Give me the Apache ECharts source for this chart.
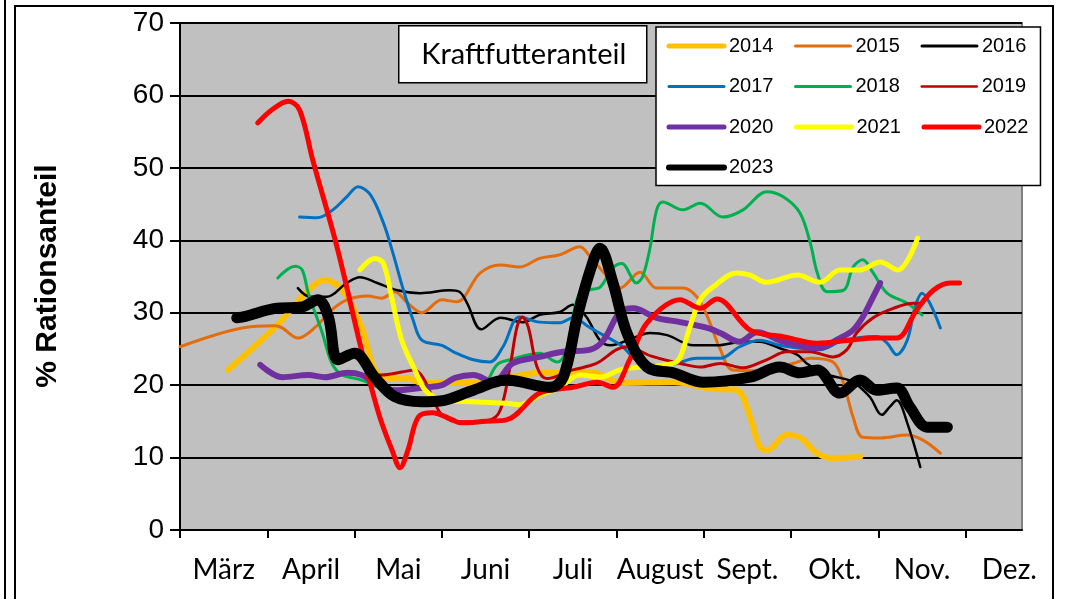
<!DOCTYPE html>
<html>
<head>
<meta charset="utf-8">
<script src="https://cdn.jsdelivr.net/npm/echarts@6/dist/echarts.min.js"></script>
<style>
  html, body { margin: 0; padding: 0; background: #fff; }
  #chart { width: 1066px; height: 599px; }
</style>
</head>
<body>
<div id="chart"></div>
<script>
// x = months since 1 March, y = % Rationsanteil
const months = ["März", "April", "Mai", "Juni", "Juli", "August", "Sept.", "Okt.", "Nov.", "Dez."];
const yTicks = [0, 10, 20, 30, 40, 50, 60, 70];
const years = ["2014", "2015", "2016", "2017", "2018", "2019", "2020", "2021", "2022", "2023"];

const s2014 = [[0.55,22.1],[1.09,28.0],[1.47,33.1],[1.66,34.5],[1.86,33.1],[2.08,28.0],[2.23,22.1],[2.38,21.0],[2.61,21.0],[2.77,20.3],[2.98,20.3],[3.36,20.3],[4.12,21.7],[4.70,21.8],[5.07,20.3],[5.65,20.4],[6.1,19.5],[6.38,19.3],[6.53,15.6],[6.64,11.5],[6.72,11.0],[6.95,13.1],[7.1,12.8],[7.3,10.6],[7.48,9.9],[7.79,10.1]];
const s2015 = [[0,25.3],[0.71,27.9],[1.09,28.2],[1.17,27.9],[1.35,26.5],[1.55,28.0],[1.74,30.4],[1.92,31.8],[2.15,32.3],[2.31,32.0],[2.46,32.9],[2.61,31.3],[2.77,30.0],[3.0,31.8],[3.17,31.5],[3.44,35.5],[3.67,36.6],[3.89,36.3],[4.12,37.5],[4.35,38.0],[4.58,39.1],[4.70,37.7],[4.93,34.5],[5.04,33.4],[5.27,35.6],[5.46,33.4],[5.76,33.4],[5.92,32.2],[6.04,29.5],[6.19,24.9],[6.33,22.1],[6.6,22.0],[7.02,23.0],[7.22,23.7],[7.48,23.2],[7.6,20.3],[7.71,15.6],[7.82,12.8],[8.02,12.7],[8.33,13.1],[8.51,12.4],[8.71,10.6]];
const s2016 = [[1.35,33.4],[1.49,32.2],[1.68,32.2],[1.91,34.1],[2.06,34.9],[2.26,34.1],[2.49,33.1],[2.75,32.7],[3.09,33.1],[3.2,32.9],[3.29,31.3],[3.45,27.7],[3.67,29.3],[3.93,28.7],[4.12,29.7],[4.35,30.1],[4.5,31.1],[4.65,29.5],[4.81,26.2],[4.93,25.5],[5.23,26.7],[5.38,27.2],[5.58,26.9],[5.88,25.5],[6.15,25.5],[6.45,26.0],[6.64,26.0],[6.87,25.1],[7.07,24.2],[7.18,23.0],[7.4,21.5],[7.7,20.5],[7.9,18.4],[8.04,15.9],[8.13,17.0],[8.21,17.9],[8.33,14.8],[8.48,8.7]];
const s2017 = [[1.37,43.2],[1.57,43.1],[1.75,44.2],[1.91,46.0],[2.04,47.4],[2.18,46.3],[2.33,42.4],[2.44,38.2],[2.55,33.5],[2.67,29.0],[2.77,26.2],[3.0,25.5],[3.15,24.5],[3.36,23.5],[3.55,23.2],[3.70,25.3],[3.89,29.4],[4.12,28.7],[4.35,28.6],[4.5,29.3],[4.7,27.9],[4.85,26.9],[5.05,25.5],[5.3,23.0],[5.6,22.8],[5.92,23.7],[6.19,23.7],[6.41,25.3],[6.64,26.2],[6.87,25.5],[7.1,25.1],[7.33,24.9],[7.56,26.0],[7.75,26.5],[7.98,26.7],[8.1,25.8],[8.21,24.2],[8.33,26.2],[8.42,30.8],[8.50,32.7],[8.59,31.3],[8.71,27.9]];
const s2018 = [[1.12,34.8],[1.32,36.4],[1.40,35.9],[1.47,32.7],[1.63,27.2],[1.74,23.0],[1.86,21.4],[2.08,20.7],[2.3,19.5],[2.6,18.0],[2.9,18.0],[3.2,18.5],[3.47,19.7],[3.63,22.8],[3.78,23.5],[4.12,24.4],[4.32,23.2],[4.43,24.9],[4.50,29.4],[4.58,32.7],[4.7,33.2],[4.81,33.5],[4.96,36.2],[5.06,36.8],[5.23,34.1],[5.3,35.0],[5.38,38.7],[5.46,44.2],[5.53,45.3],[5.76,44.2],[5.96,45.1],[6.22,43.2],[6.45,44.2],[6.72,46.7],[6.91,46.0],[7.1,43.8],[7.22,39.6],[7.3,35.5],[7.41,32.9],[7.6,33.1],[7.71,36.3],[7.82,37.3],[7.94,35.5],[8.1,32.7],[8.33,31.3],[8.50,29.7]];
const s2019 = [[2.0,21.5],[2.31,21.4],[2.54,21.8],[2.69,22.1],[2.78,21.1],[2.89,18.4],[3.0,15.9],[3.21,14.9],[3.55,15.2],[3.67,16.6],[3.78,22.5],[3.86,28.0],[3.92,29.4],[3.99,28.0],[4.09,22.5],[4.2,20.9],[4.5,22.1],[4.77,23.0],[5.0,24.9],[5.12,25.3],[5.4,24.0],[5.73,23.0],[5.96,22.5],[6.19,23.0],[6.45,22.4],[6.72,23.5],[6.95,24.6],[7.22,24.6],[7.48,23.9],[7.64,24.9],[7.75,27.2],[7.94,29.3],[8.17,30.6],[8.40,31.3],[8.51,31.3]];
const s2020 = [[0.92,22.8],[1.17,21.1],[1.47,21.4],[1.66,21.1],[1.92,21.7],[2.08,21.4],[2.23,20.3],[2.46,19.3],[2.81,19.7],[3.0,20.0],[3.15,21.0],[3.36,21.4],[3.59,20.4],[3.81,23.0],[4.12,23.9],[4.39,24.6],[4.70,24.9],[4.85,26.2],[5.04,30.1],[5.19,30.6],[5.46,29.3],[5.73,28.7],[6.04,27.9],[6.19,27.2],[6.41,26.0],[6.61,27.3],[6.91,26.0],[7.30,25.1],[7.56,26.5],[7.71,27.6],[7.82,29.4],[7.94,32.2],[8.02,34.1]];
const s2021 = [[2.06,35.9],[2.23,37.5],[2.33,36.8],[2.43,31.8],[2.54,26.2],[2.69,22.1],[2.81,19.3],[3.0,18.0],[3.36,17.7],[3.74,17.5],[3.89,17.3],[4.12,18.6],[4.35,19.7],[4.58,21.4],[4.81,21.1],[5.04,22.1],[5.27,22.5],[5.65,23.0],[5.73,23.9],[5.84,28.0],[5.96,31.8],[6.1,33.5],[6.38,35.5],[6.53,35.2],[6.72,34.2],[7.07,35.2],[7.33,34.2],[7.56,35.9],[7.79,35.9],[8.02,37.0],[8.22,35.9],[8.45,40.3]];
const s2022 = [[0.89,56.2],[1.05,58.0],[1.24,59.2],[1.37,58.0],[1.52,51.1],[1.8,39.0],[2.08,24.8],[2.23,18.0],[2.31,14.8],[2.43,11.0],[2.52,8.6],[2.61,11.0],[2.73,15.6],[2.89,16.2],[3.12,15.2],[3.21,14.8],[3.5,15.0],[3.74,15.2],[4.12,18.9],[4.5,19.7],[4.78,20.4],[4.96,19.7],[5.15,23.5],[5.35,28.6],[5.73,31.8],[5.96,30.6],[6.15,31.9],[6.53,27.6],[6.91,26.7],[7.3,25.8],[7.67,26.2],[7.98,26.5],[8.21,26.5],[8.44,30.4],[8.63,33.1],[8.82,34.1],[8.93,34.1]];
const s2023 = [[0.65,29.3],[0.75,29.5],[1.09,30.6],[1.40,30.8],[1.58,31.8],[1.70,29.4],[1.81,23.5],[2.0,24.4],[2.23,21.1],[2.46,18.4],[2.77,17.7],[2.98,17.8],[3.36,19.3],[3.74,20.7],[4.24,19.7],[4.39,21.1],[4.55,29.4],[4.70,35.9],[4.81,38.9],[4.96,34.1],[5.12,27.2],[5.35,22.5],[5.65,21.7],[6.0,20.4],[6.53,21.1],[6.87,22.5],[7.1,21.7],[7.3,22.1],[7.56,18.9],[7.79,20.7],[7.98,19.3],[8.21,19.6],[8.36,17.0],[8.56,14.2],[8.79,14.2]];

const seriesValues = [s2014, s2015, s2016, s2017, s2018, s2019, s2020, s2021, s2022, s2023];
const colors = ["#FFC000", "#E46C0A", "#000000", "#0070C0", "#00B050", "#C00000", "#7030A0", "#FFFF00", "#FF0000", "#000000"];
const lineWidths = [6, 3, 2.5, 3, 3, 3, 6, 5, 5, 11];
const legendWidths = [5, 3, 3, 3, 3, 2.5, 5, 5, 5, 6];

const chart = echarts.init(document.getElementById("chart"));
chart.setOption({
    animation: false,
    backgroundColor: "#ffffff",
    grid: {
        left: 180, right: 44, top: 23, bottom: 69,
        show: true, backgroundColor: "#c0c0c0", borderColor: "#808080", borderWidth: 2
    },
    xAxis: {
        type: "value",
        min: 0,
        max: 9.645,
        axisLine: { show: true, onZero: false, lineStyle: { color: "#000", width: 2 } },
        axisTick: {
            show: true, length: 8, lineStyle: { color: "#000", width: 2 },
            customValues: months.map((m, i) => i)
        },
        axisLabel: {
            margin: 26, color: "#000", fontFamily: "Lato", fontSize: 28,
            customValues: months.map((m, i) => i + 0.5),
            formatter: v => months[Math.floor(v)]
        },
        splitLine: { show: false }
    },
    yAxis: {
        type: "value",
        min: 0, max: 70, interval: 10,
        axisLine: { show: true, lineStyle: { color: "#000", width: 2 } },
        axisTick: { show: true, length: 10, lineStyle: { color: "#000", width: 2 } },
        axisLabel: {
            margin: 16, color: "#000", fontFamily: "Arial, Liberation Sans", fontSize: 28,
            formatter: v => (yTicks.indexOf(v) >= 0 ? String(v) : "")
        },
        splitLine: { show: true, lineStyle: { color: "#000", width: 2 } }
    },
    legend: {
        left: 656, top: 27, width: 380,
        padding: [9, 12, 8, 10],
        itemGap: 20.5, itemWidth: 55, itemHeight: 12,
        backgroundColor: "#fff", borderColor: "#000", borderWidth: 1.5, borderRadius: 0,
        selectedMode: false,
        textStyle: { color: "#000", fontFamily: "Arial, Liberation Sans", fontSize: 20, width: 48 },
        data: years.map((y, i) => ({
            name: y,
            lineStyle: { width: legendWidths[i], cap: "round" },
            itemStyle: { color: "rgba(0,0,0,0)", borderWidth: 0 }
        }))
    },
    graphic: [
        { type: "line", shape: { x1: 5, y1: 0, x2: 5, y2: 599 }, style: { stroke: "#000", lineWidth: 2 } },
        { type: "rect", shape: { x: 15, y: 6, width: 1038, height: 610 }, style: { fill: null, stroke: "#000", lineWidth: 2 } },
        {
            type: "group", left: 398, top: 25,
            children: [
                { type: "rect", shape: { x: 0, y: 0, width: 248, height: 57 }, style: { fill: "#fff", stroke: "#000", lineWidth: 1.5 } },
                { type: "text", x: 125, y: 29, style: { text: "Kraftfutteranteil", fill: "#000", font: "29px Lato", textAlign: "center", textVerticalAlign: "middle" } }
            ]
        },
        {
            type: "text", x: 48, y: 276, rotation: Math.PI / 2,
            style: { text: "% Rationsanteil", fill: "#000", font: "bold 30px Arial, Liberation Sans", textAlign: "center", textVerticalAlign: "middle" }
        }
    ],
    series: years.map((y, i) => ({
        name: y,
        type: "line",
        data: seriesValues[i],
        smooth: 0.35,
        symbol: "none",
        showSymbol: false,
        color: colors[i],
        lineStyle: { color: colors[i], width: lineWidths[i], cap: "round", join: "round" },
        z: 2 + i
    }))
});
</script>
</body>
</html>
